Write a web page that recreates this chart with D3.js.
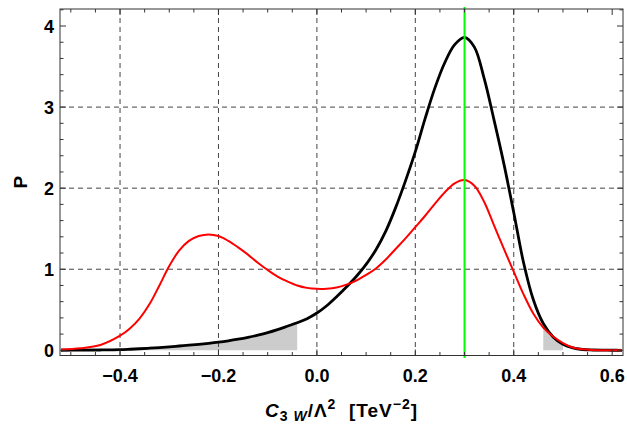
<!DOCTYPE html>
<html>
<head>
<meta charset="utf-8">
<script src="https://cdn.jsdelivr.net/npm/d3@7/dist/d3.min.js"></script>
<style>
  html, body { margin: 0; padding: 0; background: #fff; }
  svg { display: block; font-family: "Liberation Sans", Arial, Helvetica, sans-serif; }
</style>
</head>
<body>
<svg id="chart" width="627" height="426"></svg>
<script>
// Coupling values C3W/Λ² (TeV⁻²) at which the densities are sampled
const coupling = [-0.52, -0.48, -0.44, -0.40, -0.38, -0.36, -0.34, -0.32, -0.30, -0.28,
                  -0.26, -0.24, -0.22, -0.20, -0.18, -0.16, -0.14, -0.12, -0.10, -0.08,
                  -0.06, -0.04, -0.02, 0.00, 0.02, 0.04, 0.06, 0.08, 0.10, 0.12,
                  0.14, 0.16, 0.18, 0.20, 0.22, 0.24, 0.26, 0.28, 0.30, 0.32,
                  0.34, 0.36, 0.38, 0.40, 0.42, 0.44, 0.46, 0.48, 0.50, 0.52,
                  0.54, 0.56, 0.60, 0.62];

// Posterior density (black)
const posterior = [0.001, 0.002, 0.004, 0.008, 0.013, 0.019, 0.026, 0.034, 0.043, 0.053,
                   0.063, 0.074, 0.086, 0.100, 0.117, 0.137, 0.160, 0.187, 0.218, 0.255,
                   0.297, 0.340, 0.390, 0.460, 0.550, 0.660, 0.780, 0.910, 1.060, 1.240,
                   1.470, 1.760, 2.090, 2.450, 2.860, 3.240, 3.550, 3.770, 3.860, 3.740,
                   3.350, 2.840, 2.300, 1.700, 1.080, 0.620, 0.330, 0.165, 0.075, 0.030,
                   0.010, 0.004, 0.001, 0.000];

// Alternative density (red)
const alternative = [0.010, 0.025, 0.065, 0.180, 0.270, 0.395, 0.570, 0.800, 1.040, 1.230,
                     1.350, 1.410, 1.430, 1.410, 1.350, 1.270, 1.180, 1.080, 0.990, 0.910,
                     0.850, 0.800, 0.770, 0.758, 0.760, 0.775, 0.810, 0.860, 0.930, 1.010,
                     1.120, 1.250, 1.380, 1.520, 1.660, 1.810, 1.950, 2.060, 2.100, 2.030,
                     1.830, 1.540, 1.250, 0.970, 0.690, 0.450, 0.280, 0.170, 0.090, 0.035,
                     0.012, 0.004, 0.001, 0.000];

// Reference value (green vertical line)
const referenceValue = 0.30;

// Shaded tails under the posterior: [from, to]
const tailRanges = [[-0.52, -0.04], [0.46, 0.50]];

// Axis ticks
const xTickLabels = [-0.4, -0.2, 0.0, 0.2, 0.4, 0.6];
const yTickLabels = [0, 1, 2, 3, 4];
const xGrid = [-0.4, -0.2, 0.0, 0.2, 0.4];
const yGrid = [1, 2, 3];

const svg = d3.select("#chart");
const margin = { left: 60, right: 4, top: 9, bottom: 70.5 };
const W = 627, H = 426;
const x0 = margin.left, x1 = W - margin.right;
const y0 = H - margin.bottom, y1 = margin.top;

const x = d3.scaleLinear().domain([-0.522, 0.622]).range([x0, x1]);
const y = d3.scaleLinear().domain([-0.064, 4.21]).range([y0, y1]);

const defs = svg.append("defs");
defs.append("clipPath").attr("id", "plotClip")
  .append("rect").attr("x", x0).attr("y", y1).attr("width", x1 - x0).attr("height", y0 - y1);
const tailClip = defs.append("clipPath").attr("id", "tailClip");
tailRanges.forEach(([a, b]) => {
  tailClip.append("rect")
    .attr("x", x(a)).attr("y", y1)
    .attr("width", x(b) - x(a)).attr("height", y0 - y1);
});

const blackPts = coupling.map((c, i) => [c, posterior[i]]);
const redPts = coupling.map((c, i) => [c, alternative[i]]);

const curve = d3.curveCatmullRom.alpha(0.5);
const line = d3.line().x(d => x(d[0])).y(d => y(d[1])).curve(curve);
const area = d3.area().x(d => x(d[0])).y0(y(0)).y1(d => y(d[1])).curve(curve);

const plot = svg.append("g").attr("clip-path", "url(#plotClip)");

// shaded tails
plot.append("g").attr("clip-path", "url(#tailClip)")
  .append("path").datum(blackPts)
  .attr("d", area).attr("fill", "#cccccc");

// grid lines
const grid = plot.append("g").attr("stroke", "#444").attr("stroke-width", 1)
  .attr("stroke-dasharray", "5,4").attr("fill", "none");
grid.selectAll("line.gx").data(xGrid).join("line")
  .attr("x1", d => x(d)).attr("x2", d => x(d)).attr("y1", y1).attr("y2", y0);
grid.selectAll("line.gy").data(yGrid).join("line")
  .attr("y1", d => y(d)).attr("y2", d => y(d)).attr("x1", x0).attr("x2", x1);

// curves
plot.append("path").datum(blackPts).attr("d", line)
  .attr("fill", "none").attr("stroke", "#000").attr("stroke-width", 2.8);
plot.append("path").datum(redPts).attr("d", line)
  .attr("fill", "none").attr("stroke", "#ff0000").attr("stroke-width", 2);

// reference line
svg.append("line")
  .attr("x1", x(referenceValue)).attr("x2", x(referenceValue))
  .attr("y1", y1 - 2).attr("y2", y0 + 2.5)
  .attr("stroke", "#00ff00").attr("stroke-width", 2);

// frame
svg.append("rect").attr("x", x0).attr("y", y1).attr("width", x1 - x0).attr("height", y0 - y1)
  .attr("fill", "none").attr("stroke", "#333").attr("stroke-width", 1);

// ticks (inward, on all four sides)
const xMinor = d3.range(-0.50, 0.6001, 0.05).map(v => +v.toFixed(2));
const yMinor = d3.range(0, 4.2001, 0.2).map(v => +v.toFixed(1));
const isMajorX = v => xTickLabels.some(t => Math.abs(t - v) < 1e-6);
const isMajorY = v => yTickLabels.some(t => Math.abs(t - v) < 1e-6);
const ticks = svg.append("g").attr("stroke", "#333").attr("stroke-width", 1);
xMinor.forEach(v => {
  const L = isMajorX(v) ? 6 : 3.5;
  ticks.append("line").attr("x1", x(v)).attr("x2", x(v)).attr("y1", y0).attr("y2", y0 - L);
  ticks.append("line").attr("x1", x(v)).attr("x2", x(v)).attr("y1", y1).attr("y2", y1 + L);
});
yMinor.forEach(v => {
  const L = isMajorY(v) ? 6 : 3.5;
  ticks.append("line").attr("y1", y(v)).attr("y2", y(v)).attr("x1", x0).attr("x2", x0 + L);
  ticks.append("line").attr("y1", y(v)).attr("y2", y(v)).attr("x1", x1).attr("x2", x1 - L);
});

// tick labels
const fmtX = v => (v < 0 ? "\u2212" : "") + Math.abs(v).toFixed(1);
svg.append("g").selectAll("text").data(xTickLabels).join("text")
  .attr("x", d => x(d)).attr("y", 382)
  .attr("text-anchor", "middle").attr("font-size", 18).attr("font-weight", "bold")
  .text(fmtX);
svg.append("g").selectAll("text").data(yTickLabels).join("text")
  .attr("x", 54).attr("y", d => y(d) + 6.5)
  .attr("text-anchor", "end").attr("font-size", 18).attr("font-weight", "bold")
  .text(d => d);

// axis titles
svg.append("text")
  .attr("transform", `translate(27, ${(y0 + y1) / 2}) rotate(-90)`)
  .attr("text-anchor", "middle").attr("font-size", 19).attr("font-weight", "bold")
  .text("P");

const xt = svg.append("text")
  .attr("x", (x0 + x1) / 2).attr("y", 416.5)
  .attr("text-anchor", "middle").attr("font-size", 19).attr("font-weight", "bold")
  .attr("letter-spacing", 1);
xt.append("tspan").attr("font-style", "italic").text("C");
xt.append("tspan").attr("font-size", 14).attr("dy", 4).text("3\u00A0");
xt.append("tspan").attr("font-size", 14).attr("font-style", "italic").text("W");
xt.append("tspan").attr("dy", -4).text("/\u039B");
xt.append("tspan").attr("font-size", 14).attr("dy", -8).text("2");
xt.append("tspan").attr("dy", 8).text("\u00A0\u00A0[TeV");
xt.append("tspan").attr("font-size", 14).attr("dy", -8).text("\u22122");
xt.append("tspan").attr("dy", 8).text("]");
</script>
</body>
</html>
